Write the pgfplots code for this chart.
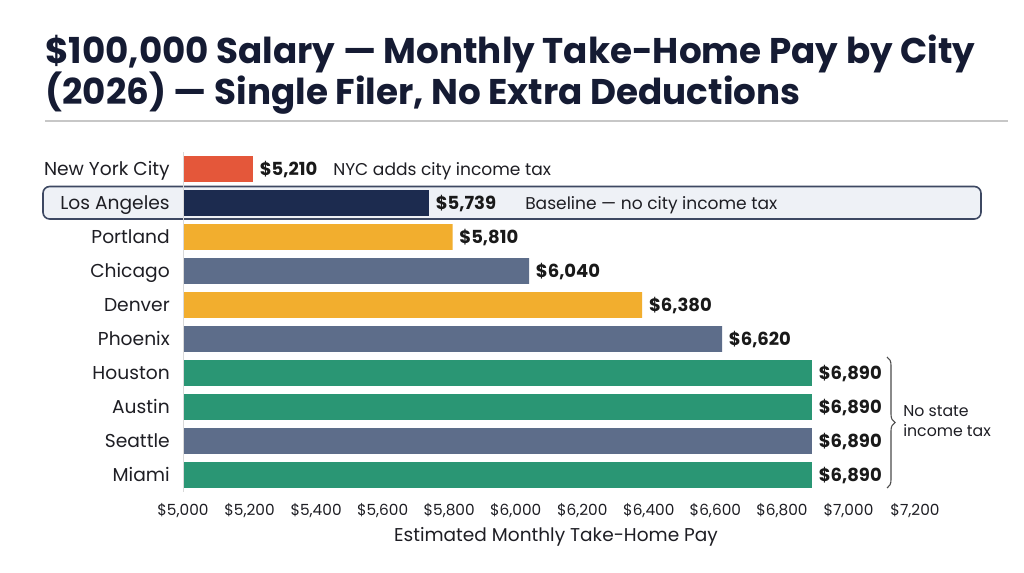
\documentclass[border=0pt]{standalone}
\usepackage{pgfplots}
\pgfplotsset{compat=1.18}
\usepackage{fontspec}
\setmainfont{Poppins}
\usetikzlibrary{decorations.pathreplacing}
\definecolor{nycred}{HTML}{E4573A}
\definecolor{navyc}{HTML}{1C2B4F}
\definecolor{amberc}{HTML}{F2AE2E}
\definecolor{slatec}{HTML}{5D6D8A}
\definecolor{grnc}{HTML}{2A9674}
\definecolor{titlec}{HTML}{151B33}
\definecolor{boxfill}{HTML}{EEF1F6}
\definecolor{boxline}{HTML}{3D4862}
\definecolor{txt}{HTML}{1E1E24}
\begin{document}
\begin{tikzpicture}
\begin{scope}[x=0.75pt,y=-0.75pt]
\fill[white] (0,0) rectangle (1024,572);
\node[anchor=base west, font=\bfseries\fontsize{26.8}{32}\selectfont, text=titlec, inner sep=0] at (45,63) {\$100,000 Salary — Monthly Take-Home Pay by City};
\node[anchor=base west, font=\bfseries\fontsize{26.8}{32}\selectfont, text=titlec, inner sep=0] at (45,104) {(2026) — Single Filer, No Extra Deductions};
\draw[black!22, line width=1.1pt] (45,121) -- (1008,121);
\draw[boxline, fill=boxfill, line width=1.2pt, rounded corners=5pt] (43,186.5) rectangle (981,219);
\end{scope}
\begin{axis}[
  at={(137.25pt,-369pt)}, anchor=south west,
  scale only axis, width=549pt, height=255pt,
  xbar, bar shift=0pt, bar width=0.76,
  xmin=5000, xmax=7200, ymin=-0.5, ymax=9.5,
  y dir=reverse,
  axis line style={draw=none},
  major tick length=0pt,
  xtick={5000,5200,...,7200},
  xticklabel={\$\pgfmathprintnumber[fixed,1000 sep={,}]{\tick}},
  /pgf/number format/assume math mode=true,
  xticklabel style={font=\fontsize{11.5}{13}\selectfont, text=txt, anchor=base, yshift=-17.5pt, inner sep=0pt},
  ytick={0,...,9},
  yticklabels={New York City,Los Angeles,Portland,Chicago,Denver,Phoenix,Houston,Austin,Seattle,Miami},
  yticklabel style={font=\fontsize{14}{16}\selectfont, text=txt, anchor=mid east, inner sep=0pt, xshift=-9.75pt, yshift=-2pt},
  point meta=x,
  nodes near coords={\$\pgfmathprintnumber[fixed,1000 sep={,}]{\pgfplotspointmeta}},
  nodes near coords style={font=\bfseries\fontsize{13.5}{15}\selectfont, text=black!90, anchor=mid west, inner sep=0pt, xshift=5pt, yshift=-2pt},
  every axis plot/.append style={draw=none},
]
\addplot[fill=nycred] coordinates {(5210,0)};
\addplot[fill=navyc] coordinates {(5739,1)};
\addplot[fill=amberc] coordinates {(5810,2) (6380,4)};
\addplot[fill=slatec] coordinates {(6040,3) (6620,5) (6890,8)};
\addplot[fill=grnc] coordinates {(6890,6) (6890,7) (6890,9)};
\draw[black!15, line width=0.8pt] (axis cs:5000,-0.5) -- (axis cs:5000,9.5);
\end{axis}
\begin{scope}[x=0.75pt,y=-0.75pt]
\node[anchor=mid west, font=\fontsize{12.8}{15}\selectfont, text=txt, inner sep=0] at (333,171.5) {NYC adds city income tax};
\node[anchor=mid west, font=\fontsize{12.8}{15}\selectfont, text=txt, inner sep=0] at (525,205.5) {Baseline — no city income tax};
\draw[black!70, line width=0.8pt, decorate, decoration={brace, amplitude=6pt}] (887,357) -- (887,488);
\node[anchor=mid west, font=\fontsize{11.8}{13}\selectfont, text=txt, inner sep=0] at (903,413) {No state};
\node[anchor=mid west, font=\fontsize{11.8}{13}\selectfont, text=txt, inner sep=0] at (903,433) {income tax};
\node[anchor=mid, font=\fontsize{13.9}{16}\selectfont, text=txt, inner sep=0] at (556,538) {Estimated Monthly Take-Home Pay};
\end{scope}
\end{tikzpicture}
\end{document}
